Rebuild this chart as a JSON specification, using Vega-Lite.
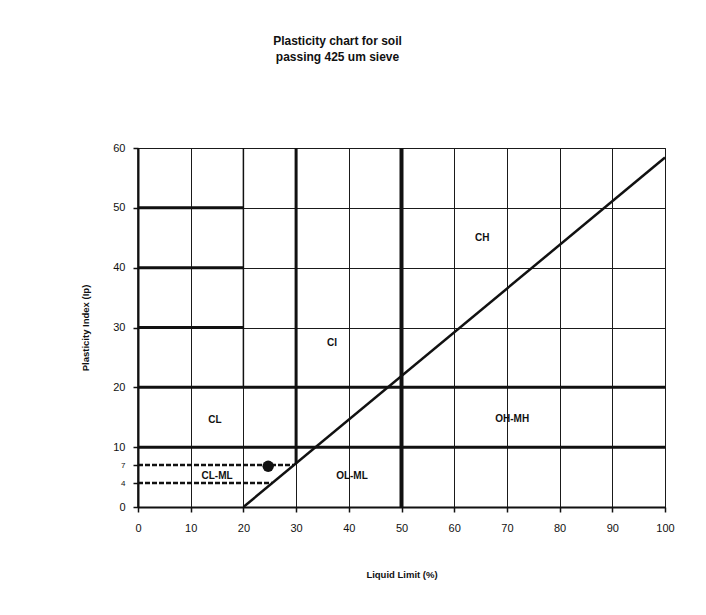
{
  "$schema": "https://vega.github.io/schema/vega-lite/v6.json",
  "width": 527,
  "height": 359,
  "autosize": "none",
  "padding": {"left": 138, "top": 148, "right": 41, "bottom": 108},
  "background": "white",
  "config": {
    "font": "Liberation Sans",
    "view": {"stroke": "#1a1a1a", "strokeWidth": 1}
  },
  "title": {
    "text": ["Plasticity chart for soil", "passing 425 um sieve"],
    "font": "Liberation Sans",
    "fontSize": 12,
    "fontWeight": "bold",
    "color": "#111",
    "anchor": "middle",
    "dx": -64,
    "offset": 78,
    "lineHeight": 16
  },
  "datasets": {
    "major": [
      {"x": 0, "x2": 20, "y": 50, "y2": 50},
      {"x": 0, "x2": 20, "y": 40, "y2": 40},
      {"x": 0, "x2": 20, "y": 30, "y2": 30},
      {"x": 0, "x2": 100, "y": 20, "y2": 20},
      {"x": 0, "x2": 100, "y": 10, "y2": 10},
      {"x": 30, "x2": 30, "y": 7.3, "y2": 60}
    ],
    "heavy": [
      {"x": 50, "x2": 50, "y": 0, "y2": 60}
    ],
    "minor": [
      {"x": 0, "x2": 0, "y": 0, "y2": 60},
      {"x": 20, "x2": 20, "y": 20, "y2": 60}
    ],
    "dashed": [
      {"x": 0, "x2": 29.6, "y": 7, "y2": 7},
      {"x": 0, "x2": 25.5, "y": 4, "y2": 4}
    ],
    "aline": [
      {"ll": 20, "pi": 0},
      {"ll": 100, "pi": 58.4}
    ],
    "sample": [
      {"ll": 24.7, "pi": 6.8}
    ],
    "zones": [
      {"name": "CH", "ll": 65.3, "pi": 45},
      {"name": "CI", "ll": 36.8, "pi": 27.4},
      {"name": "CL", "ll": 14.6, "pi": 14.5},
      {"name": "CL-ML", "ll": 15, "pi": 5.2},
      {"name": "OL-ML", "ll": 40.6, "pi": 5.2},
      {"name": "OH-MH", "ll": 71, "pi": 14.7}
    ]
  },
  "encoding": {
    "x": {
      "type": "quantitative",
      "scale": {"domain": [0, 100], "nice": false},
      "axis": {
        "title": "Liquid Limit (%)",
        "values": [0, 10, 20, 30, 40, 50, 60, 70, 80, 90, 100],
        "grid": true,
        "gridColor": "#1a1a1a",
        "gridOpacity": 1,
        "gridWidth": 1,
        "domainColor": "#111",
        "domainWidth": 2,
        "tickColor": "#111",
        "tickSize": 5,
        "tickWidth": 1.5,
        "labelFlush": false,
        "labelFont": "Liberation Sans",
        "labelFontSize": 11,
        "labelColor": "#111",
        "labelPadding": 10,
        "titleFont": "Liberation Sans",
        "titleFontSize": 9.5,
        "titleFontWeight": "bold",
        "titleColor": "#111",
        "titlePadding": 36
      }
    },
    "y": {
      "type": "quantitative",
      "scale": {"domain": [0, 60], "nice": false},
      "axis": {
        "title": "Plasticity Index (Ip)",
        "values": [0, 4, 7, 10, 20, 30, 40, 50, 60],
        "grid": true,
        "gridColor": "#1a1a1a",
        "gridWidth": 1,
        "gridOpacity": {"condition": {"test": "datum.value == 4 || datum.value == 7", "value": 0}, "value": 1},
        "labelFontSize": {"condition": {"test": "datum.value == 4 || datum.value == 7", "value": 8}, "value": 11},
        "labelFlush": false,
        "domainColor": "#111",
        "domainWidth": 2,
        "tickColor": "#111",
        "tickSize": 5,
        "tickWidth": 1.5,
        "labelFont": "Liberation Sans",
        "labelColor": "#111",
        "labelPadding": 8,
        "titleFont": "Liberation Sans",
        "titleFontSize": 9.5,
        "titleFontWeight": "bold",
        "titleColor": "#111",
        "titlePadding": 22
      }
    }
  },
  "layer": [
    {
      "data": {"name": "minor"},
      "mark": {"type": "rule", "color": "#111", "strokeWidth": 1.5},
      "encoding": {"x": {"field": "x"}, "x2": {"field": "x2"}, "y": {"field": "y"}, "y2": {"field": "y2"}}
    },
    {
      "data": {"name": "major"},
      "mark": {"type": "rule", "color": "#111", "strokeWidth": 3},
      "encoding": {"x": {"field": "x"}, "x2": {"field": "x2"}, "y": {"field": "y"}, "y2": {"field": "y2"}}
    },
    {
      "data": {"name": "heavy"},
      "mark": {"type": "rule", "color": "#111", "strokeWidth": 4},
      "encoding": {"x": {"field": "x"}, "x2": {"field": "x2"}, "y": {"field": "y"}, "y2": {"field": "y2"}}
    },
    {
      "data": {"name": "dashed"},
      "mark": {"type": "rule", "color": "#111", "strokeWidth": 2.5, "strokeDash": [5, 2]},
      "encoding": {"x": {"field": "x"}, "x2": {"field": "x2"}, "y": {"field": "y"}, "y2": {"field": "y2"}}
    },
    {
      "data": {"name": "aline"},
      "mark": {"type": "line", "color": "#111", "strokeWidth": 2.5},
      "encoding": {"x": {"field": "ll"}, "y": {"field": "pi"}}
    },
    {
      "data": {"name": "sample"},
      "mark": {"type": "point", "shape": "circle", "filled": true, "color": "#111", "opacity": 1, "size": 130},
      "encoding": {"x": {"field": "ll"}, "y": {"field": "pi"}}
    },
    {
      "data": {"name": "zones"},
      "mark": {"type": "text", "font": "Liberation Sans", "fontSize": 10, "fontWeight": "bold", "color": "#111"},
      "encoding": {"x": {"field": "ll"}, "y": {"field": "pi"}, "text": {"field": "name"}}
    }
  ]
}
